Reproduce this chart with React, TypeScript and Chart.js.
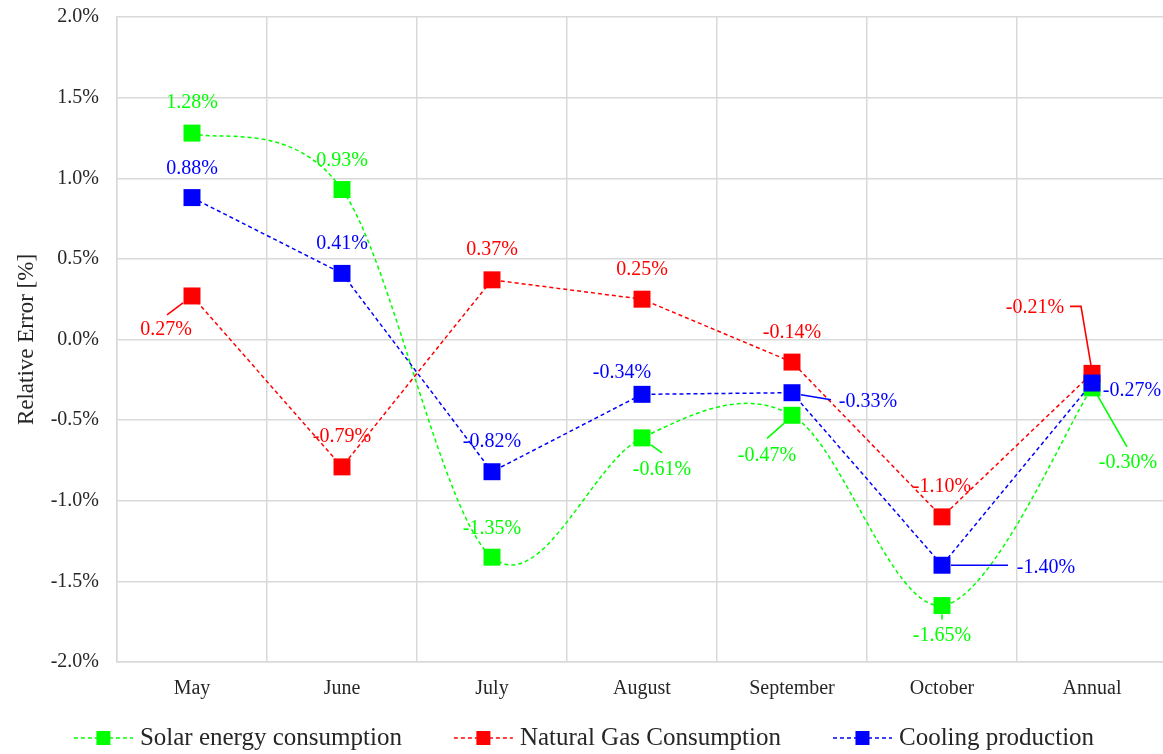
import React, { useEffect, useRef } from 'react';
import { Chart, registerables } from 'chart.js';

Chart.register(...registerables);

// ---- data ----
const categories = ['May', 'June', 'July', 'August', 'September', 'October', 'Annual'];
const solarEnergy = [1.28, 0.93, -1.35, -0.61, -0.47, -1.65, -0.3];
const naturalGas = [0.27, -0.79, 0.37, 0.25, -0.14, -1.1, -0.21];
const coolingProduction = [0.88, 0.41, -0.82, -0.34, -0.33, -1.4, -0.27];
const seriesNames = ['Solar energy consumption', 'Natural Gas Consumption', 'Cooling production'];
const yMin = -2;
const yMax = 2;
const yStep = 0.5;

// ---- styling ----
const FONT = "'Liberation Serif', 'Times New Roman', serif";
const GREEN = '#00FF00';
const RED = '#FF0000';
const BLUE = '#0000FF';
const GRID = '#d9d9d9';
const TEXT = '#262626';

type Pt = [number, number];
type Place = { dx: number; dy: number; leader?: Pt[] };

// value-label placement relative to each marker (pixels)
const solarPlaces: Place[] = [
  { dx: 0, dy: -30 },
  { dx: 0, dy: -29 },
  { dx: 0, dy: -28 },
  { dx: 20, dy: 32, leader: [[9, 7], [20, 15]] },
  { dx: -25, dy: 40, leader: [[-8, 8], [-25, 23]] },
  { dx: 0, dy: 30, leader: [[0, 9], [0, 14]] },
  { dx: 36, dy: 75, leader: [[4, 5], [35, 59]] },
];
const gasPlaces: Place[] = [
  { dx: -26, dy: 34, leader: [[-9, 7], [-25, 19]] },
  { dx: 0, dy: -30 },
  { dx: 0, dy: -30 },
  { dx: 0, dy: -29 },
  { dx: 0, dy: -29 },
  { dx: 0, dy: -30 },
  { dx: -57, dy: -66, leader: [[-1, -8], [-11, -67], [-22, -67]] },
];
const coolingPlaces: Place[] = [
  { dx: 0, dy: -29 },
  { dx: 0, dy: -30 },
  { dx: 0, dy: -30 },
  { dx: -20, dy: -22 },
  { dx: 76, dy: 9, leader: [[9, 2], [39, 7]] },
  { dx: 104, dy: 2, leader: [[9, 0], [66, 0]] },
  { dx: 40, dy: 8 },
];

// Smoothed series: Catmull-Rom style control points (tangent = chord / 6),
// applied to the point elements placed by the scales.
const smoothCurvePlugin = {
  id: 'smoothCurve',
  beforeDatasetDraw(chart: any, args: any) {
    const ds = chart.data.datasets[args.index];
    if (!ds.smooth) return;
    const line = args.meta.dataset;
    line.updateControlPoints(chart.chartArea, 'x');
    const pts = args.meta.data;
    for (let i = 0; i < pts.length; i++) {
      const p = pts[i];
      const prev = pts[i - 1] ?? p;
      const next = pts[i + 1] ?? p;
      const tx = (next.x - prev.x) / 6;
      const ty = (next.y - prev.y) / 6;
      p.cp1x = p.x - tx;
      p.cp1y = p.y - ty;
      p.cp2x = p.x + tx;
      p.cp2y = p.y + ty;
    }
    line._path = undefined;
  },
};

const valueLabelPlugin = {
  id: 'valueLabels',
  afterDatasetsDraw(chart: any) {
    const { ctx } = chart;
    const placeSets = [solarPlaces, gasPlaces, coolingPlaces];
    chart.data.datasets.forEach((ds: any, di: number) => {
      const meta = chart.getDatasetMeta(di);
      const places = placeSets[di];
      meta.data.forEach((el: any, i: number) => {
        const p = places[i];
        const v = ds.data[i] as number;
        ctx.save();
        if (p.leader) {
          ctx.strokeStyle = ds.borderColor;
          ctx.lineWidth = 1.6;
          ctx.setLineDash([]);
          ctx.beginPath();
          p.leader.forEach(([lx, ly], k) => {
            if (k === 0) ctx.moveTo(el.x + lx, el.y + ly);
            else ctx.lineTo(el.x + lx, el.y + ly);
          });
          ctx.stroke();
        }
        ctx.font = `20px ${FONT}`;
        ctx.fillStyle = ds.borderColor;
        ctx.textAlign = 'center';
        ctx.textBaseline = 'middle';
        ctx.fillText(`${v.toFixed(2)}%`, el.x + p.dx, el.y + p.dy);
        ctx.restore();
      });
    });
  },
};

const legendPlugin = {
  id: 'lineLegend',
  afterDraw(chart: any) {
    const { ctx } = chart;
    const lineLen = 59;
    const textGap = 7;
    const itemGap = 52;
    const y = 738;
    ctx.save();
    ctx.font = `25px ${FONT}`;
    const widths = chart.data.datasets.map((d: any) => lineLen + textGap + ctx.measureText(d.label).width);
    const total = widths.reduce((a: number, b: number) => a + b, 0) + itemGap * (widths.length - 1);
    let x = 584 - total / 2;
    chart.data.datasets.forEach((d: any, i: number) => {
      ctx.strokeStyle = d.borderColor;
      ctx.lineWidth = 1.5;
      ctx.setLineDash([4, 3]);
      ctx.beginPath();
      ctx.moveTo(x, y);
      ctx.lineTo(x + lineLen, y);
      ctx.stroke();
      ctx.setLineDash([]);
      ctx.fillStyle = d.borderColor;
      ctx.fillRect(x + lineLen / 2 - 7, y - 7, 14, 14);
      ctx.fillStyle = TEXT;
      ctx.textAlign = 'left';
      ctx.textBaseline = 'middle';
      ctx.fillText(d.label, x + lineLen + textGap, y);
      x += widths[i] + itemGap;
    });
    ctx.restore();
  },
};

export default function App() {
  const canvasRef = useRef<HTMLCanvasElement | null>(null);

  useEffect(() => {
    if (!canvasRef.current) return;
    const mk = (label: string, data: number[], color: string, order: number, smooth: boolean) => ({
      label,
      data,
      borderColor: color,
      backgroundColor: color,
      borderWidth: 1.5,
      borderDash: [4, 3],
      pointStyle: 'rect' as const,
      pointRadius: 12,
      pointHoverRadius: 12,
      pointBorderWidth: 0,
      tension: smooth ? 0.4 : 0,
      smooth,
      order,
      fill: false,
    });
    const chart = new Chart(canvasRef.current, {
      type: 'line',
      data: {
        labels: categories,
        datasets: [
          mk(seriesNames[0], solarEnergy, GREEN, 2, true),
          mk(seriesNames[1], naturalGas, RED, 1, false),
          mk(seriesNames[2], coolingProduction, BLUE, 0, false),
        ] as any,
      },
      options: {
        responsive: false,
        animation: false,
        layout: { padding: { top: 17, right: 8, bottom: 52, left: 0 } },
        plugins: {
          legend: { display: false },
          tooltip: { enabled: false },
        },
        scales: {
          x: {
            type: 'category',
            offset: true,
            grid: { offset: true, color: GRID, lineWidth: 1.5, drawTicks: false },
            border: { color: GRID, width: 1.5 },
            ticks: { color: TEXT, font: { family: FONT, size: 20 }, padding: 15 },
            afterFit: (scale: any) => {
              scale.height = 40;
              scale.paddingLeft = 0;
              scale.paddingRight = 0;
            },
          },
          y: {
            min: yMin,
            max: yMax,
            grid: { color: GRID, lineWidth: 1.5, drawTicks: false },
            border: { color: GRID, width: 1.5 },
            ticks: {
              stepSize: yStep,
              color: TEXT,
              font: { family: FONT, size: 20 },
              padding: 18,
              callback: (v: any) => `${Number(v).toFixed(1)}%`,
            },
            title: {
              display: true,
              text: 'Relative Error [%]',
              color: TEXT,
              font: { family: FONT, size: 23 },
              padding: { top: 13, bottom: 0 },
            },
            afterFit: (scale: any) => {
              scale.width = 117;
              scale.paddingTop = 0;
              scale.paddingBottom = 0;
            },
          },
        },
      },
      plugins: [smoothCurvePlugin, valueLabelPlugin, legendPlugin],
    });
    return () => chart.destroy();
  }, []);

  return (
    <div
      style={{
        position: 'fixed',
        left: 0,
        top: 0,
        width: 1163,
        height: 754,
        overflow: 'hidden',
        background: '#ffffff',
      }}
    >
      <canvas ref={canvasRef} width={1179} height={754} style={{ width: 1179, height: 754 }} />
    </div>
  );
}
